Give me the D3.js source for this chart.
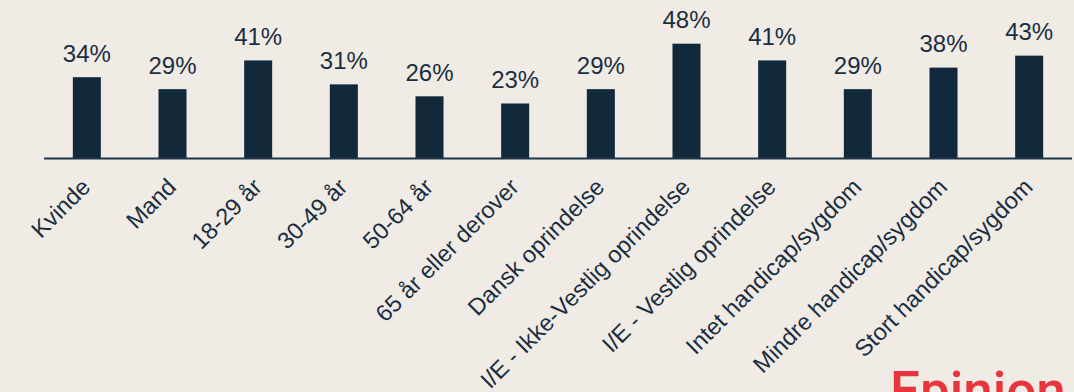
<!DOCTYPE html>
<html>
<head>
<meta charset="utf-8">
<script src="https://cdn.jsdelivr.net/npm/d3@7"></script>
<style>
  html, body { margin: 0; padding: 0; background: #f0ebe4; overflow: hidden; }
  svg { display: block; }
</style>
</head>
<body>
<svg id="chart" width="1074" height="392"></svg>
<script>
// Share of respondents per group (%)
const categories = [
  "Kvinde", "Mand", "18-29 år", "30-49 år", "50-64 år", "65 år eller derover",
  "Dansk oprindelse", "I/E - Ikke-Vestlig oprindelse", "I/E - Vestlig oprindelse",
  "Intet handicap/sygdom", "Mindre handicap/sygdom", "Stort handicap/sygdom"
];
const values = [34, 29, 41, 31, 26, 23, 29, 48, 41, 29, 38, 43];
const brandName = "Epinion";

const W = 1074, H = 392;
const navy = "#12283b";
const baseY = 158.5;

const svg = d3.select("#chart");

svg.append("rect").attr("width", W).attr("height", H).attr("fill", "#f0ebe4");

const x = d3.scaleBand()
  .domain(categories)
  .range([44, 1072])
  .paddingInner(0.673)
  .paddingOuter(0.3365);

const y = d3.scaleLinear()
  .domain([0, 48])
  .range([baseY, baseY - 114.8]);

// bars
svg.append("g").selectAll("rect")
  .data(values)
  .join("rect")
  .attr("x", (d, i) => x(categories[i]))
  .attr("y", d => y(d))
  .attr("width", x.bandwidth())
  .attr("height", d => y(0) - y(d))
  .attr("fill", navy);

// value labels
svg.append("g").selectAll("text")
  .data(values)
  .join("text")
  .attr("x", (d, i) => x(categories[i]) + x.bandwidth() / 2)
  .attr("y", d => y(d) - 15.5)
  .attr("text-anchor", "middle")
  .attr("font-family", "Liberation Sans, Arial, sans-serif")
  .attr("font-size", 24)
  .attr("fill", "#1a2e42")
  .text(d => d + "%");

// category axis
const axis = svg.append("g")
  .attr("transform", `translate(0,${baseY})`)
  .call(d3.axisBottom(x).tickSize(0).tickPadding(0));

axis.select(".domain")
  .attr("stroke", "#1e3448")
  .attr("stroke-width", 2)
  .attr("d", "M44,0H1072");

axis.selectAll(".tick text")
  .attr("font-family", "Liberation Sans, Arial, sans-serif")
  .attr("font-size", 23.5)
  .attr("fill", "#1a2e42")
  .attr("text-anchor", "end")
  .attr("dy", null)
  .attr("y", null)
  .attr("transform", "translate(5,30) rotate(-45)");

// brand mark
svg.append("text")
  .attr("x", 890)
  .attr("y", 409)
  .attr("font-family", "Roboto, Liberation Sans, Arial, sans-serif")
  .attr("font-weight", 500)
  .attr("font-size", 53)
  .attr("fill", "#e8343c")
  .text(brandName);
</script>
</body>
</html>
